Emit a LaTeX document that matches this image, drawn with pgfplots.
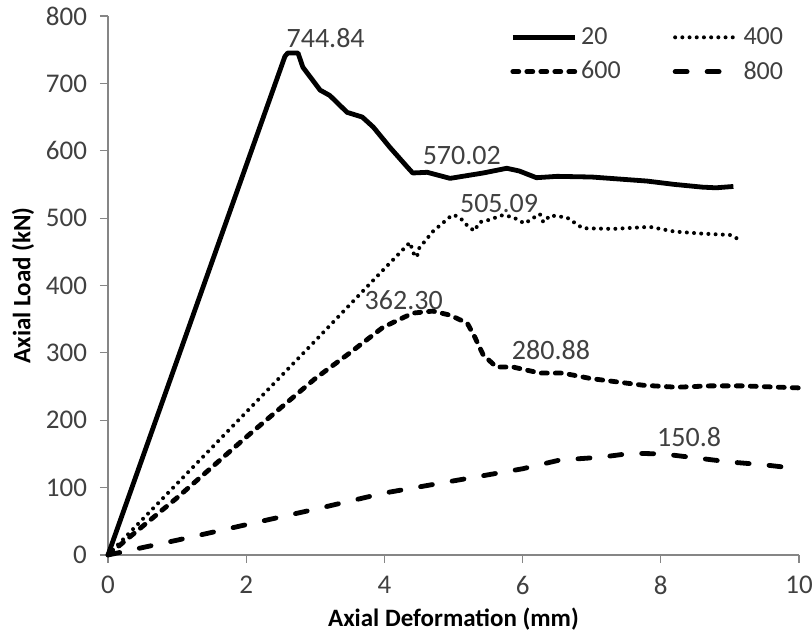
\documentclass[border=0pt]{standalone}
\usepackage{pgfplots}
\pgfplotsset{compat=1.18}
\usepackage{fontspec}
\setmainfont{Carlito}
\definecolor{axgray}{HTML}{868686}
\definecolor{txt}{HTML}{404040}
\begin{document}
\begin{tikzpicture}
\begin{axis}[
  at={(0,0)}, anchor=south west,
  scale only axis, width=345.5pt, height=269.5pt,
  xmin=0, xmax=10, ymin=0, ymax=800,
  xtick={0,2,...,10}, ytick={0,100,...,800},
  axis x line*=bottom, axis y line*=left,
  axis line style={axgray, line width=0.6pt, -},
  tick style={axgray, line width=0.6pt},
  tick align=outside, major tick length=4pt,
  /pgf/number format/assume math mode=true,
  ticklabel style={font=\fontsize{13.5}{15}\selectfont, text=txt},
  yticklabel style={xshift=-3pt},
  xticklabel style={yshift=-3pt},
  xlabel={\textbf{Axial Deformation (mm)}},
  ylabel={\textbf{Axial Load (kN)}},
  label style={font=\fontsize{12.5}{14}\selectfont},
  xlabel style={yshift=0pt},
  ylabel style={yshift=-1pt},
  clip=false,
  legend columns=2,
  legend style={draw=none, fill=none, at={(198pt,268pt)}, anchor=north west,
    font=\fontsize{13}{15}\selectfont, text=txt,
    /tikz/every even column/.append style={column sep=24pt},
    row sep=3pt},
  legend cell align=left,
  legend image code/.code={\draw[#1] (0pt,0pt) -- (31pt,0pt);},
]
\addplot[black, line width=2.4pt, line join=round] coordinates {
(0,0) (2.56,740) (2.6,745) (2.75,745) (2.82,724) (3.07,690) (3.21,682)
(3.46,657) (3.68,650) (3.84,635) (4.08,605) (4.33,576) (4.41,567)
(4.62,568) (4.95,559) (5.43,567) (5.77,574) (5.95,570) (6.2,560)
(6.5,562) (7.0,561) (7.4,558) (7.8,555) (8.2,550) (8.6,546) (8.8,545) (9.05,547)};
\addlegendentry{20}
\addplot[black, line width=2pt, line cap=round, dash pattern=on 0pt off 3.6pt] coordinates {
(0,0) (0.5,53) (1,106) (2,212) (3,318) (4,425) (4.37,464) (4.42,448) (4.47,442)
(4.5,455) (4.7,480) (4.95,502) (5.0,505) (5.1,500) (5.19,490) (5.30,481)
(5.38,494) (5.5,497) (5.70,504) (5.85,502) (6.03,492) (6.15,500) (6.25,506)
(6.30,494) (6.40,504) (6.64,501) (6.87,485) (7.31,484) (7.84,487) (8.2,480)
(8.6,477) (9.0,475) (9.1,470)};
\addlegendentry{400}
\addplot[black, line width=2.4pt, line cap=round, dash pattern=on 3pt off 4pt] coordinates {
(0,0) (1,85) (2,175) (3,262) (3.5,300) (3.98,338) (4.41,359) (4.70,362)
(4.95,356) (5.20,344) (5.31,323) (5.43,297) (5.62,279) (5.86,279) (6.25,270)
(6.58,270) (6.98,262) (7.74,252) (8.23,249) (8.71,251) (9.19,251) (10,248)};
\addlegendentry{600}
\addplot[black, line width=2.4pt, line cap=round, dash pattern=on 6pt off 10pt] coordinates {
(0,0) (1,22) (2,45) (3,68) (4,92) (5,110) (6,128) (6.54,141) (7.12,145)
(7.58,151) (8.03,150) (8.52,144) (9.0,138) (9.48,134) (10,128)};
\addlegendentry{800}
\begin{scope}[every node/.style={font=\fontsize{14}{16}\selectfont, text=txt}]
\node at (axis cs:3.15,768) {744.84};
\node at (axis cs:5.12,593) {570.02};
\node at (axis cs:5.66,522) {505.09};
\node at (axis cs:4.28,378) {362.30};
\node at (axis cs:6.41,304) {280.88};
\node at (axis cs:8.41,175) {150.8};
\end{scope}
\end{axis}
\pgfresetboundingbox
\path (-54pt,-40pt) rectangle (352pt,277.5pt);
\end{tikzpicture}
\end{document}
